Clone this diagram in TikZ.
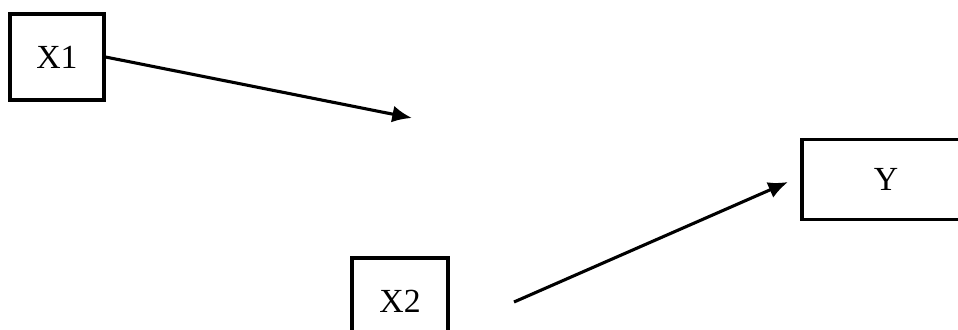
\documentclass[tikz,border=0pt]{standalone}
\usepackage{fontspec}
\setmainfont{Liberation Serif}
\usetikzlibrary{arrows.meta}
\tikzset{var/.style={draw,line width=2.2pt,inner sep=0pt,font=\fontsize{24}{28}\selectfont},
  path/.style={line width=2.2pt,-{Latex[length=14pt,width=12pt]}}}

\begin{document}
\begin{tikzpicture}[x=0.025cm,y=-0.025cm]
\useasboundingbox (0,0) rectangle (958,329);
\clip (0,0) rectangle (958,329);
\node[var,minimum width=2.35cm,minimum height=2.15cm](x1) at (57,57){X1};
\node[var,minimum width=2.4cm,minimum height=2.15cm](x2) at (400,301){X2};
\node[var,minimum width=4.2cm,minimum height=2.02cm](y) at (886,179.5){Y};
\coordinate (t1) at (412,118);
\coordinate (s2) at (514,302);
\coordinate (t2) at (788,182);
\draw[path](x1.east)--(t1);
\draw[path](s2)--(t2);
\end{tikzpicture}
\end{document}
